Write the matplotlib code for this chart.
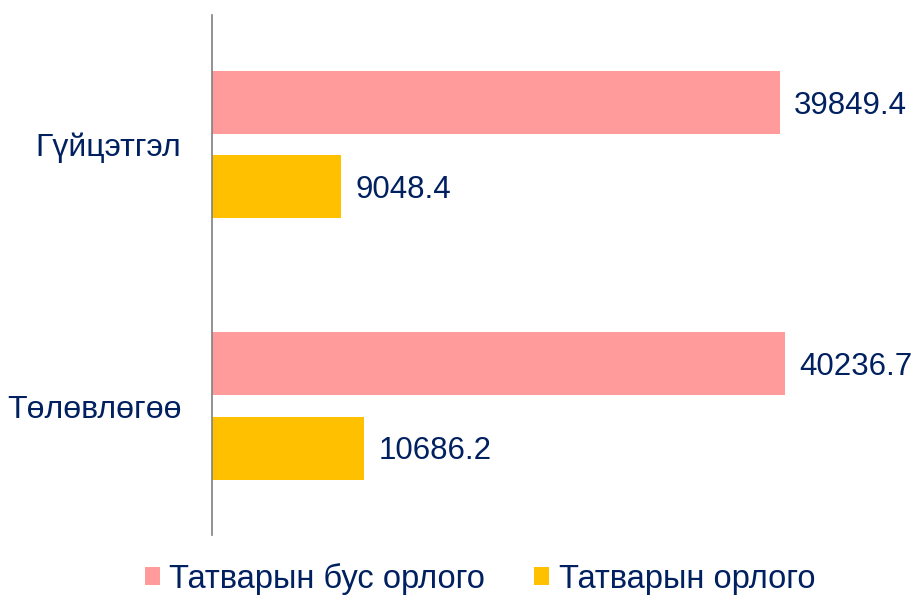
import matplotlib
matplotlib.use("Agg")
import matplotlib.pyplot as plt
import numpy as np

# Data
categories = ["Гүйцэтгэл", "Төлөвлөгөө"]
series_names = ["Татварын бус орлого", "Татварын орлого"]
non_tax = [39849.4, 40236.7]
tax = [9048.4, 10686.2]

colors = ["#FF9B9B", "#FFC000"]
text_color = "#002060"

plt.rcParams['font.family'] = ['Liberation Sans', 'DejaVu Sans']

fig = plt.figure(figsize=(9.18, 5.95), dpi=100)
ax = fig.add_axes([212 / 918, 60 / 595, 1 - 212 / 918, 520 / 595])

y = np.arange(len(categories))
h = 0.241
off = 0.161

b1 = ax.barh(y - off, non_tax, height=h, color=colors[0], label=series_names[0])
b2 = ax.barh(y + off, tax, height=h, color=colors[1], label=series_names[1])

for bars, vals in [(b1, non_tax), (b2, tax)]:
    for bar, v in zip(bars, vals):
        ax.text(bar.get_width() + 1000, bar.get_y() + bar.get_height() / 2 + 0.012,
                f"{v:.1f}", va="center", ha="left", fontsize=22.5, color=text_color)

ax.set_xlim(0, 49540)
ax.set_ylim(1.493, -0.495)
ax.set_yticks(y)
ax.set_yticklabels(categories, fontsize=23, color=text_color)
ax.tick_params(axis='y', length=0, pad=22)
ax.set_xticks([])

for s in ["top", "right", "bottom"]:
    ax.spines[s].set_visible(False)
ax.spines["left"].set_color("#808080")
ax.spines["left"].set_linewidth(1.2)

leg = fig.legend(handles=[b1, b2], loc="center", bbox_to_anchor=(480 / 918, 1 - 579 / 595),
                 ncol=2, frameon=False, fontsize=23.5, handlelength=0.46, handleheight=0.46,
                 handletextpad=0.3, columnspacing=1.5)
for t in leg.get_texts():
    t.set_color(text_color)

fig.savefig("out.png", dpi=100)
